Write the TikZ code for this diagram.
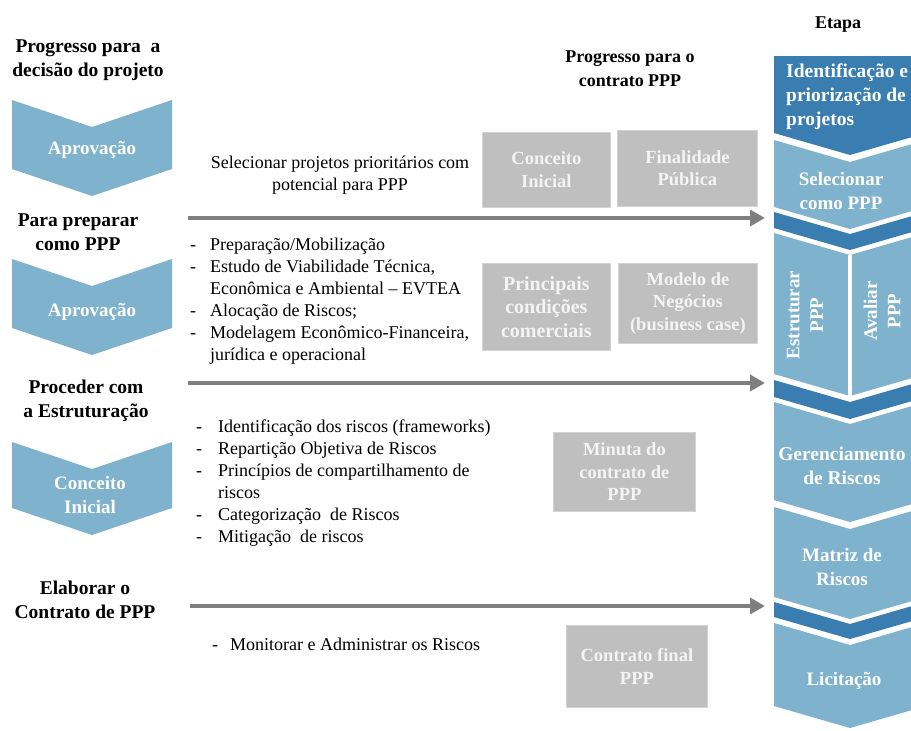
\documentclass[tikz,border=0pt]{standalone}
\usepackage{fontspec}
\setmainfont{Liberation Serif}
\usetikzlibrary{arrows.meta}

\definecolor{stepdark}{HTML}{3A7DB0}
\definecolor{steplight}{HTML}{7FB2CC}
\definecolor{boxgray}{HTML}{BFBFBF}
\definecolor{boxtext}{HTML}{F4F4F4}
\definecolor{arrowgray}{HTML}{7F7F7F}

% chevron pointing down: colour, left x, right x, top y, bottom y, depth
\newcommand\downchev[6]{%
  \fill[#1] (#2,#4) -- ({(#2+#3)/2},{#4+#6}) -- (#3,#4) -- (#3,#5)
    -- ({(#2+#3)/2},{#5+#6}) -- (#2,#5) -- cycle;}

\begin{document}
\begin{tikzpicture}[x=1pt,y=-1pt,
  heading/.style={font=\fontsize{19.5}{24}\selectfont\bfseries, align=center, inner sep=0pt},
  topheading/.style={font=\fontsize{18}{24}\selectfont\bfseries, align=center, inner sep=0pt},
  body/.style={font=\fontsize{18}{22}\selectfont, inner sep=0pt},
  chevtext/.style={font=\fontsize{19}{23.5}\selectfont\bfseries, text=white, align=center, inner sep=0pt},
  bigchevtext/.style={chevtext, font=\fontsize{19.5}{24}\selectfont\bfseries},
  graybox/.style={fill=boxgray, draw=boxgray!70!white, line width=0.8pt, inner sep=0pt,
    text=boxtext, font=\fontsize{18.5}{22.5}\selectfont\bfseries, align=center},
  phase/.style={line width=4.5pt, draw=arrowgray, -{Triangle[length=15pt,width=16pt]}},
]
\useasboundingbox (0,0) rectangle (911,731);
\clip (0,0) rectangle (911,731);

% ---------- left column: decision headings and approval chevrons ----------
\node[heading] (h1) at (88,60) {Progresso para\ \ a\\decisão do projeto};
\downchev{steplight}{12}{172}{100}{169}{27}
\node[chevtext] (c1) at (92,150) {Aprovação};

\node[heading] (h2) at (78,232) {Para preparar\\como PPP};
\downchev{steplight}{12}{172}{259}{328}{27}
\node[chevtext] (c2) at (92,312) {Aprovação};

\node[heading] (h3) at (86,401) {Proceder com\\a Estruturação};
\downchev{steplight}{12}{172}{442}{508}{27}
\node[chevtext] (c3) at (90,495) {Conceito\\Inicial};

\node[heading] (h4) at (85,600) {Elaborar o\\Contrato de PPP};

% ---------- middle: activities and deliverables ----------
\node[topheading] (top) at (630,69) {Progresso para o\\contrato PPP};

\node[body, align=center] (sel) at (340,175) {Selecionar projetos prioritários com\\potencial para PPP};

\node[body, anchor=base west] (list1) at (190,250) {%
  \begin{tabular}[t]{@{}p{20pt}@{}l@{}}
  - & Preparação/Mobilização\\
  - & Estudo de Viabilidade Técnica,\\
    & Econômica e Ambiental -- EVTEA\\
  - & Alocação de Riscos;\\
  - & Modelagem Econômico-Financeira,\\
    & jurídica e operacional
  \end{tabular}};

\node[body, anchor=base west] (list2) at (196,432) {%
  \begin{tabular}[t]{@{}p{22pt}@{}l@{}}
  - & Identificação dos riscos (frameworks)\\
  - & Repartição Objetiva de Riscos\\
  - & Princípios de compartilhamento de\\
    & riscos\\
  - & Categorização\ \ de Riscos\\
  - & Mitigação\ \ de riscos
  \end{tabular}};

\node[body, anchor=base west] (list3) at (212,650) {%
  \begin{tabular}[t]{@{}p{18pt}@{}l@{}}
  - & Monitorar e Administrar os Riscos
  \end{tabular}};

\node[graybox, minimum width=128pt, minimum height=75pt, anchor=north west] (b1) at (482,132) {Conceito\\Inicial};
\node[graybox, minimum width=140pt, minimum height=76pt, anchor=north west] (b2) at (617,130) {Finalidade\\Pública};
\node[graybox, minimum width=128pt, minimum height=87pt, anchor=north west,
      font=\fontsize{20}{23.5}\selectfont\bfseries] (b3) at (482,263) {Principais\\condições\\comerciais};
\node[graybox, minimum width=139pt, minimum height=80pt, anchor=north west] (b4) at (618,263) {Modelo de\\Negócios\\(business case)};
\node[graybox, minimum width=142pt, minimum height=79pt, anchor=north west] (b5) at (553,432) {Minuta do\\contrato de\\PPP};
\node[graybox, minimum width=141pt, minimum height=82pt, anchor=north west] (b6) at (566,625) {Contrato final\\PPP};

% ---------- phase arrows ----------
\coordinate (p1s) at (188,218); \coordinate (p1e) at (765,218);
\coordinate (p2s) at (188,383); \coordinate (p2e) at (765,383);
\coordinate (p3s) at (190,606); \coordinate (p3e) at (765,606);
\draw[phase] (p1s) -- (p1e);
\draw[phase] (p2s) -- (p2e);
\draw[phase] (p3s) -- (p3e);

% ---------- right column: stages ----------
\node[topheading] (etapa) at (838,25) {Etapa};

\fill[stepdark] (774,56) -- (926,56) -- (926,133) -- (850,155) -- (774,133) -- cycle;
\node[bigchevtext, anchor=west, align=left] (s1) at (786,97) {Identificação e\\priorização de\\projetos};

\downchev{steplight}{774}{926}{140}{207}{22}
\node[chevtext] (s2) at (841,191) {Selecionar\\como PPP};

\downchev{stepdark}{774}{926}{212}{228}{22}

\downchev{steplight}{774}{926}{233}{374}{22}
\draw[white, line width=4pt] (850,255) -- (850,396);
\node[chevtext, rotate=90] (s3a) at (805,315) {Estruturar\\PPP};
\node[chevtext, rotate=90] (s3b) at (882,311) {Avaliar\\PPP};

\downchev{stepdark}{774}{926}{380}{397}{22}

\downchev{steplight}{774}{926}{402}{500}{22}
\node[bigchevtext] (s4) at (842,466) {Gerenciamento\\de Riscos};

\downchev{steplight}{774}{926}{507}{597}{22}
\node[chevtext] (s5) at (842,567) {Matriz de\\Riscos};

\downchev{stepdark}{774}{926}{602}{617}{22}

\downchev{steplight}{774}{926}{623}{706}{22}
\node[chevtext] (s6) at (844,681) {Licitação};
\end{tikzpicture}
\end{document}
